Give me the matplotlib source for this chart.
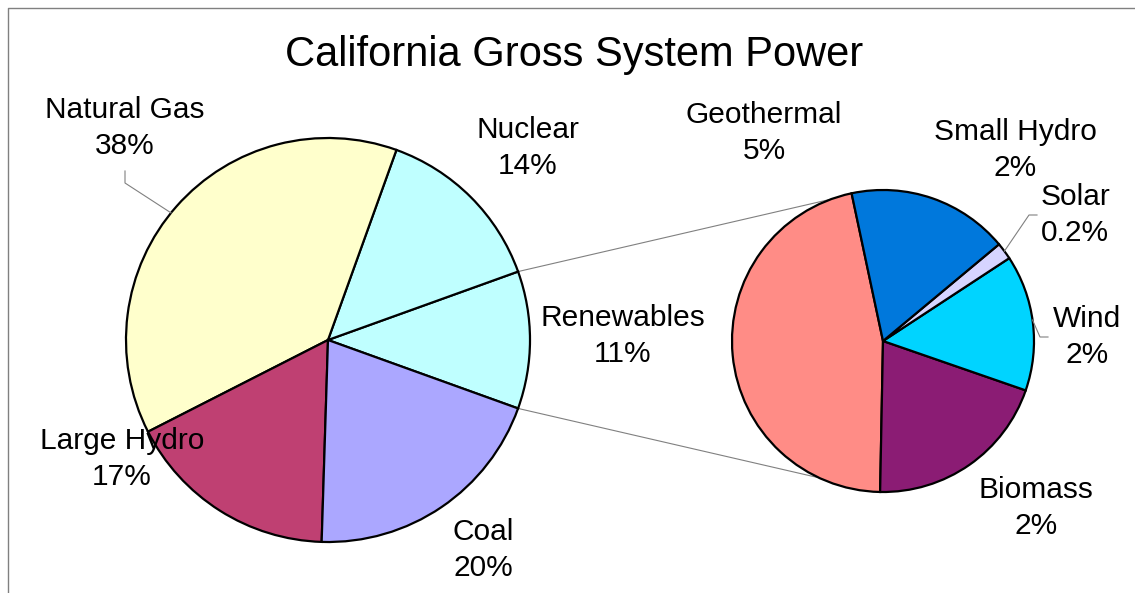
import numpy as np
import matplotlib
matplotlib.use("Agg")
import matplotlib.pyplot as plt

# main pie: shares of gross system power, in percent
main_labels = ["Renewables", "Nuclear", "Natural Gas", "Large Hydro", "Coal"]
main_values = [11.0, 14.0, 38.0, 17.0, 20.0]
main_colors = ["#BFFFFF", "#BFFFFF", "#FFFFCC", "#BF4072", "#ABA7FF"]

# breakdown of the renewables slice, also in percent of the total
ren_labels = ["Geothermal", "Biomass", "Wind", "Solar", "Small Hydro"]
ren_values = [5.1, 2.2, 1.6, 0.2, 1.9]
ren_colors = ["#FF8C86", "#8B1C74", "#00D4FF", "#D6D4FF", "#0078DC"]

W, H = 1135, 593
FONT = "Liberation Sans"


def pct(v):
    return "{0:.0f}%".format(v) if v >= 1 else "{0:.1f}%".format(v)


def py(y):
    # pixel row (from top) -> data y
    return H - y


def edge(center, radius, ang):
    a = np.radians(ang)
    return center[0] + radius * np.cos(a), center[1] + radius * np.sin(a)


fig = plt.figure(figsize=(W / 100.0, H / 100.0), dpi=100)
ax = fig.add_axes([0, 0, 1, 1])

c1, r1 = (328, py(340)), 202
c2, r2 = (883, py(341)), 151

start1 = -main_values[0] / sum(main_values) * 360 / 2
ax.pie(main_values, colors=main_colors, startangle=start1, counterclock=True,
       center=c1, radius=r1, frame=True,
       wedgeprops=dict(edgecolor="black", linewidth=1.6))
ax.pie(ren_values, colors=ren_colors, startangle=102, counterclock=True,
       center=c2, radius=r2, frame=True,
       wedgeprops=dict(edgecolor="black", linewidth=1.6))

# connectors from the renewables slice to the breakdown pie
for a1, a2 in [(-start1, 110), (start1, 245)]:
    p = edge(c1, r1, a1)
    q = edge(c2, r2, a2)
    ax.plot([p[0], q[0]], [p[1], q[1]], color="#808080", lw=0.8, zorder=0)

# leader lines
gx, gy = edge(c1, r1, 141)
ax.plot([125, 125, gx], [py(171), py(183), gy], color="#808080", lw=0.8)
sx, sy = edge(c2, r2, 36.5)
ax.plot([1037, 1029, sx], [py(215), py(215), sy], color="#808080", lw=0.8)
wx, wy = edge(c2, r2, 8)
ax.plot([wx, 1040, 1048], [wy, py(337), py(337)], color="#808080", lw=0.8)

# slice labels
main_pos = {"Renewables": (623, 336), "Nuclear": (528, 148),
            "Natural Gas": (125, 128), "Large Hydro": (122, 459),
            "Coal": (483, 550)}
ren_pos = {"Geothermal": (764, 133), "Biomass": (1036, 508),
           "Wind": (1087, 337), "Solar": (1075, 215),
           "Small Hydro": (1015, 150)}

for lab, v in zip(main_labels, main_values):
    x, y = main_pos[lab]
    ax.text(x, py(y), lab + "\n" + pct(v), ha="center", va="center",
            fontsize=21.5, family=FONT, linespacing=1.35)
for lab, v in zip(ren_labels, ren_values):
    x, y = ren_pos[lab]
    ax.text(x, py(y), lab + "\n" + pct(v), ha="center", va="center",
            fontsize=21.5, family=FONT, linespacing=1.35)

ax.text(574, py(55), "California Gross System Power", ha="center",
        va="center", fontsize=30, family=FONT)

# outer frame (runs off the right and bottom edges)
ax.plot([8, 8, W + 10], [-10, py(8), py(8)], color="#808080", lw=1.0)

ax.set_xlim(0, W)
ax.set_ylim(0, H)
ax.set_aspect("equal")
ax.axis("off")

fig.savefig("out.png", dpi=100)
